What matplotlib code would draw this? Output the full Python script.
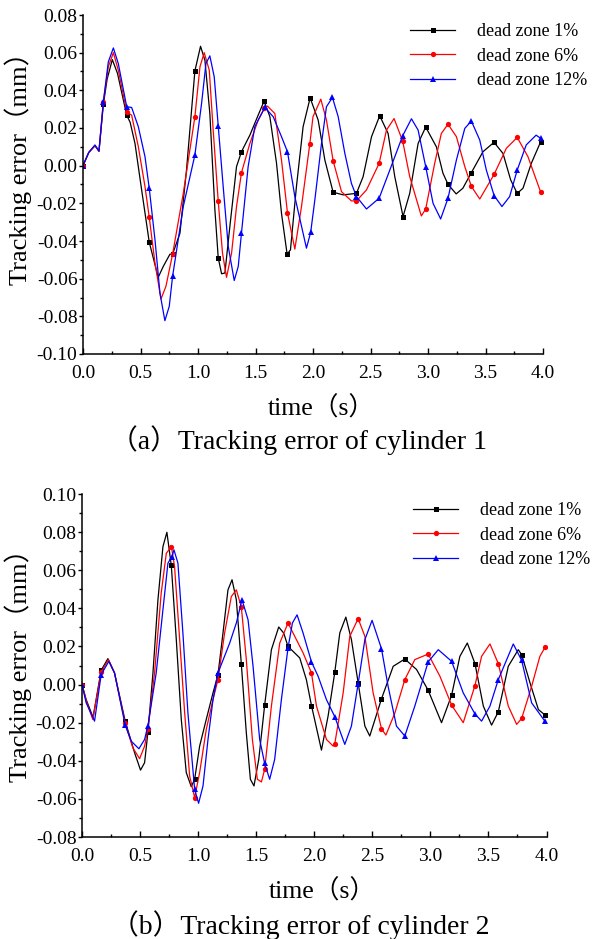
import numpy as np
import matplotlib
matplotlib.use('Agg')
import matplotlib.pyplot as plt
from matplotlib.ticker import MultipleLocator, FormatStrFormatter

plt.rcParams['font.family'] = ['Liberation Serif', 'Noto Sans CJK SC']
plt.rcParams['axes.unicode_minus'] = False

series_labels = ['dead zone 1%', 'dead zone 6%', 'dead zone 12%']
series_colors = ['#000000', '#ff0000', '#0000ff']
series_markers = ['s', 'o', '^']

# ---------------- cylinder 1 ----------------
cyl1_marker_t = [0, 0.18, 0.38, 0.58, 0.78, 0.97, 1.18, 1.38, 1.58, 1.78, 1.98,
                 2.18, 2.38, 2.58, 2.78, 2.98, 3.17, 3.38, 3.58, 3.78, 3.98]

cyl1_dz1_t = [0, 0.05, 0.104, 0.139, 0.177, 0.21, 0.255, 0.30, 0.38, 0.41, 0.452, 0.51,
              0.576, 0.654, 0.698, 0.756, 0.779, 0.843, 0.90, 0.944, 0.973, 1.022, 1.06,
              1.103, 1.147, 1.176, 1.205, 1.234, 1.277, 1.335, 1.378, 1.451, 1.523, 1.575,
              1.625, 1.683, 1.726, 1.775, 1.804, 1.856, 1.914, 1.975, 2.045, 2.103, 2.175,
              2.262, 2.378, 2.436, 2.509, 2.58, 2.653, 2.711, 2.783, 2.841, 2.914, 2.98,
              3.073, 3.13, 3.174, 3.245, 3.303, 3.377, 3.478, 3.574, 3.652, 3.719, 3.776,
              3.826, 3.898, 3.98]
cyl1_dz1_y = [0, 0.007, 0.0106, 0.0076, 0.0325, 0.046, 0.0563, 0.049, 0.0268, 0.023, 0.0118,
              -0.0129, -0.0406, -0.0593, -0.0535, -0.047, -0.047, -0.0359, -0.0023, 0.0295,
              0.0503, 0.0634, 0.056, 0.0277, -0.0235, -0.049, -0.0574, -0.057, -0.0323,
              -0.0005, 0.0074, 0.0162, 0.0268, 0.0343, 0.026, 0.0012, -0.0253, -0.047,
              -0.0447, -0.0111, 0.0207, 0.036, 0.0242, 0.003, -0.0141, -0.0155, -0.0147,
              -0.0058, 0.0154, 0.0265, 0.0171, -0.0058, -0.027, -0.0147, 0.0118, 0.0205,
              0.010, -0.004, -0.0099, -0.015, -0.012, -0.0037, 0.0074, 0.0124, 0.0065,
              -0.0076, -0.0147, -0.012, 0.0012, 0.0127]

cyl1_dz6_t = [0, 0.05, 0.104, 0.139, 0.177, 0.22, 0.264, 0.307, 0.38, 0.423, 0.481, 0.539,
              0.576, 0.626, 0.678, 0.721, 0.779, 0.872, 0.973, 1.017, 1.054, 1.098, 1.132,
              1.176, 1.213, 1.248, 1.292, 1.335, 1.378, 1.451, 1.523, 1.578, 1.604, 1.668,
              1.726, 1.778, 1.842, 1.90, 1.972, 2.0, 2.068, 2.117, 2.175, 2.248, 2.334,
              2.378, 2.465, 2.575, 2.639, 2.705, 2.78, 2.841, 2.942, 2.98, 3.058, 3.116,
              3.174, 3.247, 3.32, 3.377, 3.45, 3.575, 3.681, 3.776, 3.869, 3.98]
cyl1_dz6_y = [0, 0.007, 0.0106, 0.0078, 0.0339, 0.0525, 0.060, 0.0507, 0.0286, 0.0268,
              0.0101, -0.0111, -0.0274, -0.0517, -0.0708, -0.0641, -0.047, -0.0147, 0.026,
              0.0525, 0.060, 0.0507, 0.0189, -0.019, -0.0464, -0.0593, -0.0464, -0.0217,
              -0.0037, 0.0118, 0.0242, 0.0305, 0.0316, 0.0277, 0.003, -0.025, -0.0443,
              -0.0217, 0.0115, 0.026, 0.0353, 0.0242, 0.0026, -0.0138, -0.0187, -0.0187,
              -0.0129, 0.0012, 0.0189, 0.025, 0.013, -0.0058, -0.0267, -0.023, 0.0012,
              0.0171, 0.022, 0.0154, -0.0005, -0.011, -0.0177, -0.0046, 0.0092, 0.015,
              0.0048, -0.0141]

cyl1_dz12_t = [0, 0.05, 0.104, 0.139, 0.177, 0.22, 0.264, 0.307, 0.38, 0.423, 0.481, 0.539,
               0.576, 0.626, 0.669, 0.712, 0.75, 0.779, 0.872, 0.973, 1.031, 1.069, 1.103,
               1.141, 1.176, 1.219, 1.263, 1.315, 1.35, 1.378, 1.436, 1.494, 1.581, 1.654,
               1.726, 1.778, 1.842, 1.943, 1.98, 2.016, 2.074, 2.117, 2.169, 2.219, 2.277,
               2.334, 2.378, 2.465, 2.575, 2.668, 2.78, 2.856, 2.914, 2.98, 3.044, 3.11,
               3.174, 3.247, 3.32, 3.377, 3.45, 3.507, 3.575, 3.643, 3.71, 3.776, 3.854,
               3.94, 3.98]
cyl1_dz12_y = [0, 0.007, 0.011, 0.0078, 0.0339, 0.0551, 0.0625, 0.0542, 0.0313, 0.0309,
               0.0207, 0.0048, -0.012, -0.0394, -0.0676, -0.0823, -0.0747, -0.0588, -0.0217,
               0.0057, 0.033, 0.0542, 0.0583, 0.0472, 0.021, -0.0111, -0.0429, -0.061,
               -0.0535, -0.0358, -0.0005, 0.0207, 0.0309, 0.026, 0.0154, 0.0074, -0.0164,
               -0.0438, -0.0353, -0.0182, 0.0118, 0.0313, 0.0362, 0.026, 0.0065, -0.0094,
               -0.0164, -0.023, -0.0173, -0.0023, 0.0159, 0.0249, 0.0189, -0.0005, -0.02,
               -0.0283, -0.0173, 0.003, 0.0198, 0.0237, 0.0136, -0.0023, -0.0159, -0.0217,
               -0.0164, -0.0023, 0.011, 0.0162, 0.0145]

# ---------------- cylinder 2 ----------------
cyl2_marker_t = [0, 0.17, 0.37, 0.57, 0.77, 0.97, 1.17, 1.37, 1.57, 1.77, 1.98,
                 2.18, 2.38, 2.58, 2.78, 2.98, 3.18, 3.38, 3.59, 3.79, 3.99]

cyl2_dz1_t = [0, 0.036, 0.095, 0.165, 0.223, 0.28, 0.372, 0.453, 0.504, 0.539, 0.568, 0.611,
              0.654, 0.697, 0.731, 0.769, 0.812, 0.855, 0.898, 0.941, 0.970, 1.013, 1.07,
              1.128, 1.171, 1.214, 1.257, 1.292, 1.329, 1.372, 1.415, 1.45, 1.481, 1.522,
              1.573, 1.631, 1.694, 1.737, 1.774, 1.875, 1.932, 1.976, 2.062, 2.119, 2.177,
              2.22, 2.272, 2.32, 2.378, 2.436, 2.478, 2.579, 2.68, 2.78, 2.881, 2.981, 3.096,
              3.183, 3.254, 3.318, 3.384, 3.456, 3.527, 3.585, 3.671, 3.757, 3.786, 3.858,
              3.93, 3.987]
cyl2_dz1_y = [0, -0.0079, -0.0172, 0.0075, 0.0136, 0.0061, -0.0192, -0.0358, -0.0449,
              -0.041, -0.0248, 0.0061, 0.0445, 0.0724, 0.0799, 0.0625, 0.0236, -0.0183,
              -0.0462, -0.0536, -0.0497, -0.0323, -0.0183, -0.0044, 0.0052, 0.027, 0.0497,
              0.055, 0.0445, 0.0108, -0.0253, -0.0497, -0.0532, -0.0393, -0.0108, 0.0183,
              0.0302, 0.027, 0.020, 0.014, 0.0026, -0.011, -0.0344, -0.0166, 0.0065, 0.0271,
              0.0354, 0.0236, 0.0009, -0.0218, -0.027, -0.0075, 0.0096, 0.0134, 0.0079,
              -0.003, -0.020, -0.0056, 0.0148, 0.0218, 0.011, -0.0113, -0.0213, -0.0143,
              0.0096, 0.0183, 0.0157, 0.0009, -0.0131, -0.016]

cyl2_dz6_t = [0, 0.036, 0.093, 0.165, 0.228, 0.28, 0.372, 0.438, 0.496, 0.539, 0.568, 0.625,
              0.682, 0.726, 0.77, 0.797, 0.841, 0.884, 0.927, 0.970, 1.013, 1.07, 1.128,
              1.171, 1.228, 1.286, 1.329, 1.372, 1.415, 1.467, 1.51, 1.545, 1.573, 1.631,
              1.703, 1.774, 1.832, 1.904, 1.976, 2.019, 2.105, 2.163, 2.177, 2.249, 2.306,
              2.378, 2.436, 2.507, 2.579, 2.617, 2.695, 2.78, 2.866, 2.981, 3.082, 3.183,
              3.283, 3.384, 3.441, 3.513, 3.585, 3.671, 3.743, 3.786, 3.872, 3.943, 3.987]
cyl2_dz6_y = [0, -0.0084, -0.0183, 0.0065, 0.0131, 0.0061, -0.0204, -0.0332, -0.0389,
              -0.0323, -0.0232, 0.0061, 0.048, 0.0689, 0.0724, 0.062, 0.0236, -0.0148,
              -0.048, -0.0593, -0.0462, -0.0236, -0.0079, 0.0026, 0.027, 0.0462, 0.0497,
              0.0407, 0.0131, -0.0288, -0.0497, -0.0511, -0.0445, -0.0113, 0.0218, 0.0323,
              0.0253, 0.0166, 0.0061, -0.0113, -0.0288, -0.0323, -0.031, -0.0044, 0.0253,
              0.0346, 0.0253, -0.0044, -0.0232, -0.0265, -0.0148, 0.0026, 0.0131, 0.016,
              0.0044, -0.0108, -0.020, -0.0005, 0.0148, 0.0213, 0.011, -0.0113, -0.0209,
              -0.0178, -0.0009, 0.0148, 0.0195]

cyl2_dz12_t = [0, 0.036, 0.108, 0.165, 0.231, 0.28, 0.372, 0.424, 0.49, 0.539, 0.568, 0.639,
               0.697, 0.74, 0.775, 0.792, 0.826, 0.869, 0.912, 0.970, 1.004, 1.042, 1.085,
               1.128, 1.171, 1.272, 1.329, 1.378, 1.43, 1.473, 1.53, 1.573, 1.616, 1.659,
               1.717, 1.774, 1.812, 1.852, 1.904, 1.976, 2.033, 2.105, 2.177, 2.263, 2.32,
               2.378, 2.436, 2.498, 2.579, 2.636, 2.708, 2.78, 2.866, 2.981, 3.068, 3.183,
               3.283, 3.384, 3.441, 3.513, 3.585, 3.714, 3.786, 3.872, 3.987]
cyl2_dz12_y = [0, -0.0096, -0.0192, 0.0052, 0.0122, 0.0061, -0.0213, -0.0297, -0.0337,
               -0.0288, -0.0215, 0.0061, 0.0393, 0.0637, 0.0672, 0.0707, 0.0637, 0.027,
               -0.0148, -0.055, -0.0623, -0.0532, -0.0288, -0.0079, 0.0061, 0.0218, 0.0323,
               0.0445, 0.034, 0.0096, -0.0288, -0.0414, -0.0497, -0.0393, -0.0079, 0.0192,
               0.0323, 0.0366, 0.027, 0.0119, 0.0044, -0.0079, -0.0169, -0.0314, -0.0218,
               0.0005, 0.0236, 0.0337, 0.0188, -0.0009, -0.0218, -0.027, -0.0113, 0.0119,
               0.0183, 0.0122, -0.0044, -0.0154, -0.0192, -0.0113, 0.0026, 0.0213, 0.0127,
               -0.0096, -0.0193]

x_ticks = [0.0, 0.5, 1.0, 1.5, 2.0, 2.5, 3.0, 3.5, 4.0]
cyl1_yticks = [-0.10, -0.08, -0.06, -0.04, -0.02, 0.00, 0.02, 0.04, 0.06, 0.08]
cyl2_yticks = [-0.08, -0.06, -0.04, -0.02, 0.00, 0.02, 0.04, 0.06, 0.08, 0.10]

ylabel_text = 'Tracking error（mm）'
xlabel_text = 'time（s）'
captions = ['（a）Tracking error of cylinder 1', '（b）Tracking error of cylinder 2']

W, H = 593, 939
fig = plt.figure(figsize=(W / 100, H / 100), dpi=100)


def px_rect(l, t, r, b):
    return [l / W, 1 - b / H, (r - l) / W, (b - t) / H]


ax1 = fig.add_axes(px_rect(83, 15, 543, 354))
ax2 = fig.add_axes(px_rect(82, 494, 546.5, 837))

panels = [
    (ax1, cyl1_marker_t, [(cyl1_dz1_t, cyl1_dz1_y), (cyl1_dz6_t, cyl1_dz6_y), (cyl1_dz12_t, cyl1_dz12_y)], cyl1_yticks),
    (ax2, cyl2_marker_t, [(cyl2_dz1_t, cyl2_dz1_y), (cyl2_dz6_t, cyl2_dz6_y), (cyl2_dz12_t, cyl2_dz12_y)], cyl2_yticks),
]

marker_sizes = [3.6, 3.8, 4.4]

for ax, mk_t, data, yt in panels:
    for (t, y), c, m, lab, ms in zip(data, series_colors, series_markers, series_labels, marker_sizes):
        t = np.asarray(t)
        idx = sorted(set(int(np.argmin(np.abs(t - mt))) for mt in mk_t))
        ax.plot(t, y, color=c, lw=0.9, marker=m, markersize=ms, markevery=idx,
                markeredgewidth=0, label=lab, solid_joinstyle='round')
    ax.set_xlim(0, 4.0)
    ax.set_ylim(yt[0], yt[-1])
    ax.set_xticks(x_ticks)
    ax.set_yticks(yt)
    ax.xaxis.set_minor_locator(MultipleLocator(0.25))
    ax.yaxis.set_minor_locator(MultipleLocator(0.01))
    ax.xaxis.set_major_formatter(FormatStrFormatter('%.1f'))
    ax.yaxis.set_major_formatter(FormatStrFormatter('%.2f'))
    for s in ['top', 'right']:
        ax.spines[s].set_visible(False)
    for s in ['left', 'bottom']:
        ax.spines[s].set_linewidth(1.1)
    ax.tick_params(axis='x', which='major', direction='in', length=4, width=1.0,
                   labelsize=14, pad=8)
    ax.tick_params(axis='x', which='minor', direction='in', length=2.5, width=1.0)
    ax.tick_params(axis='y', which='major', direction='out', length=3, width=1.0,
                   labelsize=14, pad=1)
    ax.tick_params(axis='y', which='minor', direction='out', length=2, width=1.0)
    ax.patch.set_alpha(0)

# legends
for ax, (lx, ly) in [(ax1, (410, 23)), (ax2, (413, 502))]:
    ax.legend(loc='upper left', bbox_to_anchor=(lx / W, 1 - ly / H),
              bbox_transform=fig.transFigure, frameon=False, fontsize=13,
              handlelength=2.5, handletextpad=1.2, labelspacing=0.42,
              borderpad=0, borderaxespad=0, markerscale=1.0)

# y labels
fig.text(18 / W, 1 - 162 / H, ylabel_text, rotation=90, ha='center', va='center', fontsize=19)
fig.text(18 / W, 1 - 659 / H, ylabel_text, rotation=90, ha='center', va='center', fontsize=19)
# x labels
fig.text(321 / W, 1 - 408 / H, xlabel_text, ha='center', va='center', fontsize=18.5)
fig.text(322 / W, 1 - 891 / H, xlabel_text, ha='center', va='center', fontsize=18.5)
# captions
fig.text(299 / W, 1 - 440 / H, captions[0], ha='center', va='center', fontsize=20)
fig.text(300 / W, 1 - 925 / H, captions[1], ha='center', va='center', fontsize=20)

fig.savefig('out.png', dpi=100)
